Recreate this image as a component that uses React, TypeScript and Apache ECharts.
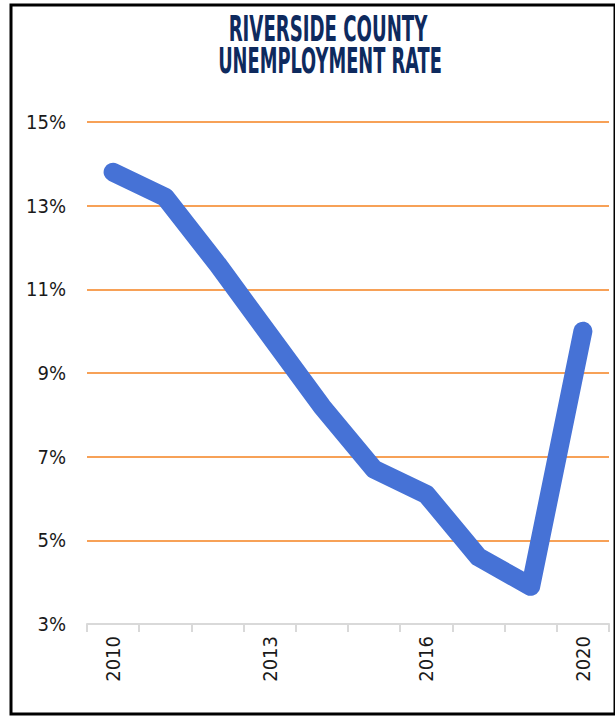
import React, { useEffect, useRef } from "react";
import * as echarts from "echarts";

const categories = ["2010", "2011", "2012", "2013", "2014", "2015", "2016", "2017", "2019", "2020"];
const unemploymentRate = [13.8, 13.2, 11.6, 9.9, 8.2, 6.7, 6.1, 4.6, 3.9, 10.0];
const titleLines = ["RIVERSIDE COUNTY", "UNEMPLOYMENT RATE"];

const NARROW = '"Liberation Sans Narrow", "DejaVu Sans Condensed", "Roboto Condensed", sans-serif';

export default function App() {
  const ref = useRef<HTMLDivElement>(null);
  useEffect(() => {
    if (!ref.current) return;
    const chart = echarts.init(ref.current, undefined, { renderer: "svg" });
    chart.setOption({
      animation: false,
      backgroundColor: "#ffffff",
      grid: { left: 87, right: 6, top: 122, bottom: 93, containLabel: false },
      graphic: [
        {
          type: "rect",
          shape: { x: 11, y: 5, width: 604, height: 709 },
          style: { fill: "none", stroke: "#000000", lineWidth: 3 },
          z: 100,
        },
        {
          type: "text",
          x: 328,
          y: 29,
          scaleX: 0.56,
          style: {
            text: titleLines[0],
            fontSize: 36,
            fontWeight: "bold",
            fontFamily: NARROW,
            fill: "#0e2a5e",
            align: "center",
            verticalAlign: "middle",
          },
        },
        {
          type: "text",
          x: 330,
          y: 61,
          scaleX: 0.55,
          style: {
            text: titleLines[1],
            fontSize: 36,
            fontWeight: "bold",
            fontFamily: NARROW,
            fill: "#0e2a5e",
            align: "center",
            verticalAlign: "middle",
          },
        },
      ],
      xAxis: {
        type: "category",
        data: categories,
        boundaryGap: true,
        axisLine: { show: true, lineStyle: { color: "#d9d9d9", width: 2 } },
        axisTick: { show: true, interval: 0, length: 8, lineStyle: { color: "#d9d9d9", width: 2 } },
        axisLabel: {
          interval: 2,
          rotate: 90,
          margin: 12,
          fontSize: 20,
          fontFamily: NARROW,
          color: "#1a1a1a",
        },
        splitLine: { show: false },
      },
      yAxis: {
        type: "value",
        min: 3,
        max: 15,
        interval: 2,
        axisLine: { show: false },
        axisTick: { show: false },
        axisLabel: {
          formatter: "{value}%",
          margin: 21,
          fontSize: 20,
          fontFamily: NARROW,
          color: "#1a1a1a",
        },
        splitLine: { show: true, showMinLine: false, lineStyle: { color: "#f5821f", width: 1.5 } },
      },
      series: [
        {
          type: "line",
          data: unemploymentRate,
          symbol: "none",
          lineStyle: { color: "#4672d6", width: 19, cap: "round", join: "round" },
          z: 3,
        },
      ],
    });
    return () => chart.dispose();
  }, []);
  return (
    <div
      ref={ref}
      style={{ position: "absolute", left: 0, top: 0, width: 615, height: 717 }}
    />
  );
}
